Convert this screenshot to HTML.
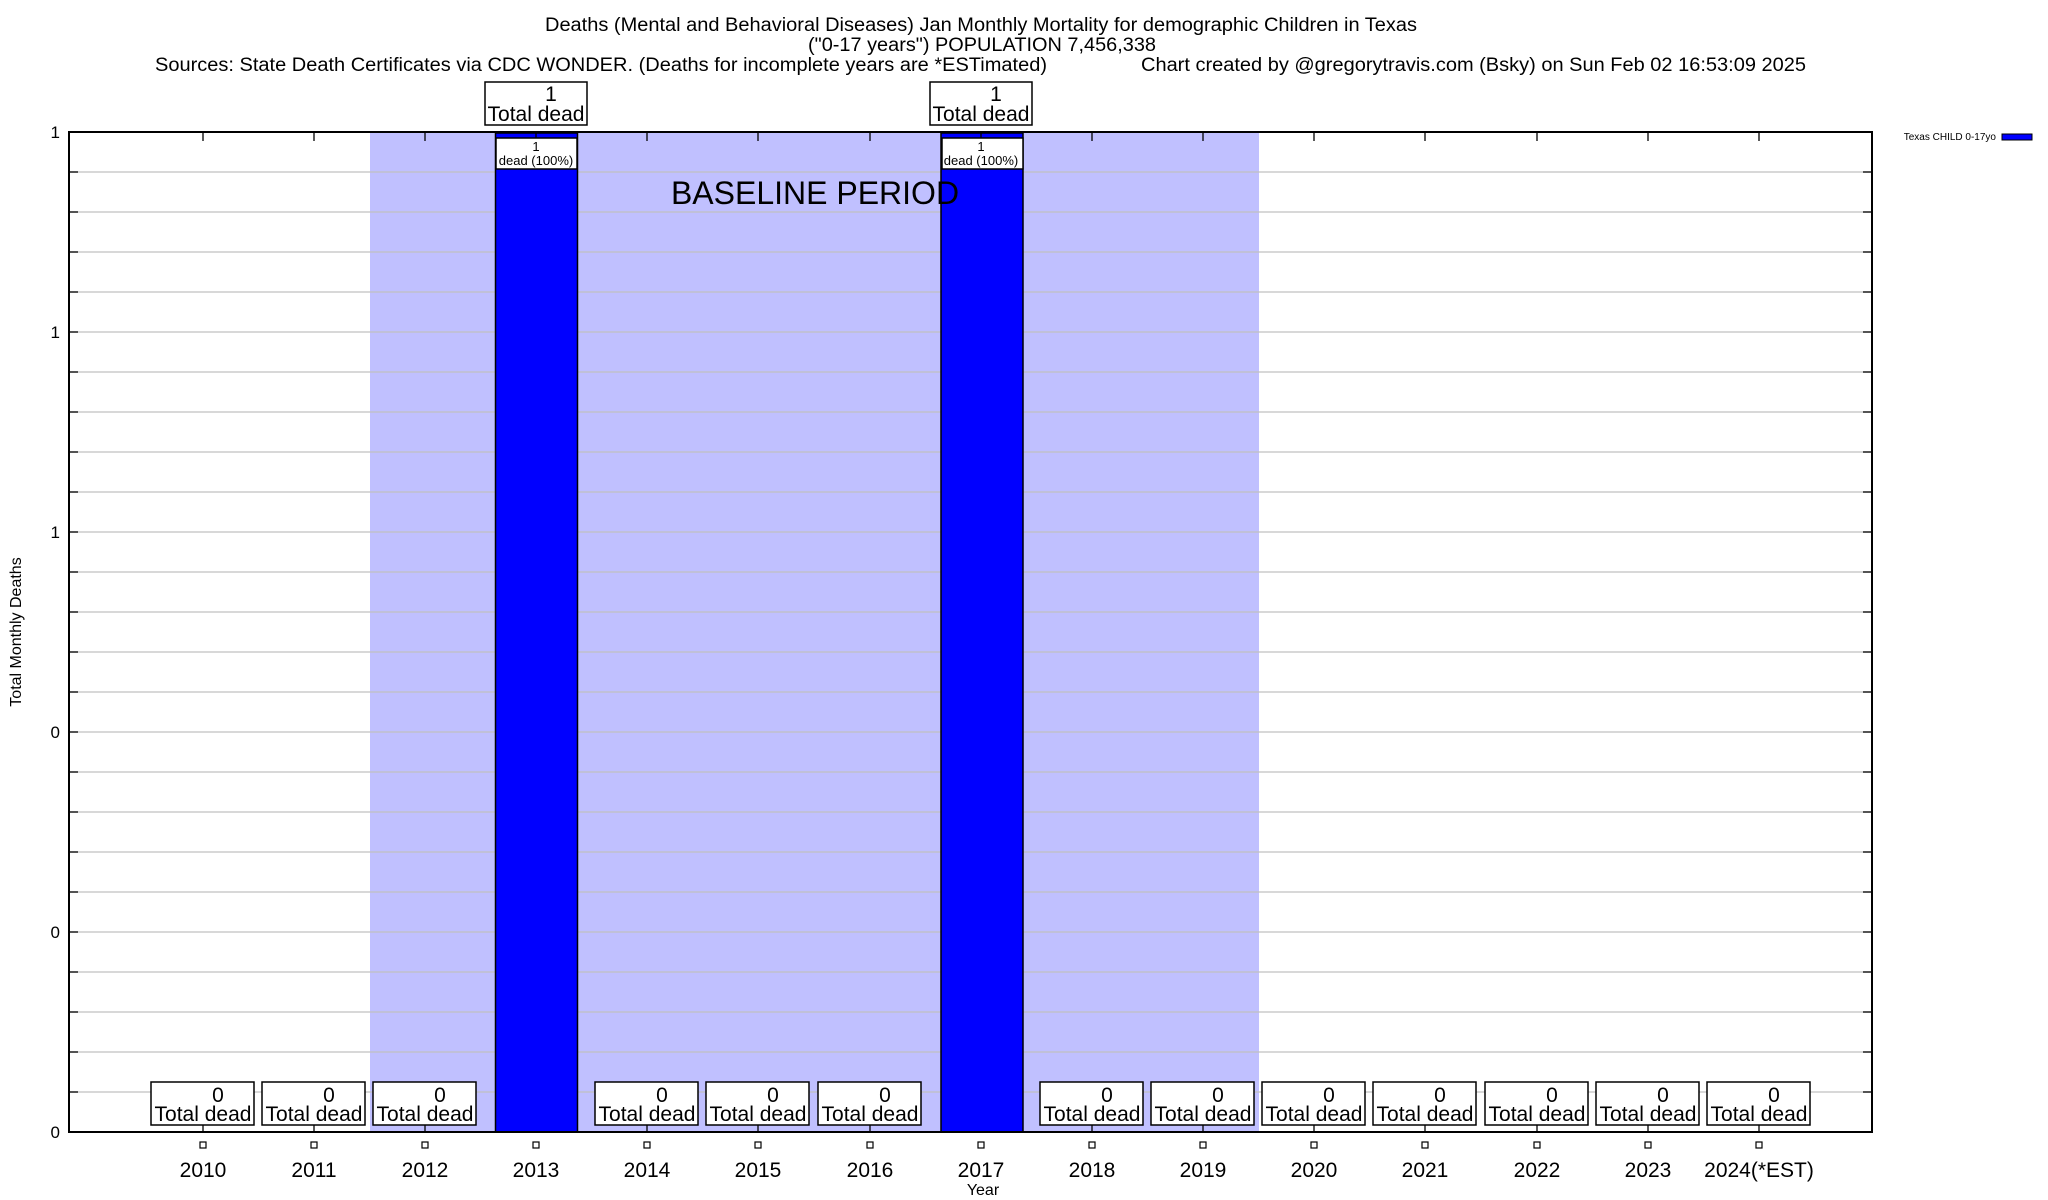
<!DOCTYPE html>
<html><head><meta charset="utf-8"><style>
html,body{margin:0;padding:0;background:#fff;}
svg{display:block;font-family:"Liberation Sans",Arial,sans-serif;}
</style></head><body>
<svg width="2048" height="1200" viewBox="0 0 2048 1200" xmlns="http://www.w3.org/2000/svg">
<rect width="2048" height="1200" fill="#fff"/>
<rect x="370" y="132" width="889" height="1000" fill="#c0c0ff"/>
<g stroke="#c0c0c0" stroke-width="1.3">
<line x1="69" x2="1872" y1="172" y2="172"/><line x1="69" x2="1872" y1="212" y2="212"/><line x1="69" x2="1872" y1="252" y2="252"/><line x1="69" x2="1872" y1="292" y2="292"/><line x1="69" x2="1872" y1="332" y2="332"/>
<line x1="69" x2="1872" y1="372" y2="372"/><line x1="69" x2="1872" y1="412" y2="412"/><line x1="69" x2="1872" y1="452" y2="452"/><line x1="69" x2="1872" y1="492" y2="492"/><line x1="69" x2="1872" y1="532" y2="532"/>
<line x1="69" x2="1872" y1="572" y2="572"/><line x1="69" x2="1872" y1="612" y2="612"/><line x1="69" x2="1872" y1="652" y2="652"/><line x1="69" x2="1872" y1="692" y2="692"/><line x1="69" x2="1872" y1="732" y2="732"/>
<line x1="69" x2="1872" y1="772" y2="772"/><line x1="69" x2="1872" y1="812" y2="812"/><line x1="69" x2="1872" y1="852" y2="852"/><line x1="69" x2="1872" y1="892" y2="892"/><line x1="69" x2="1872" y1="932" y2="932"/>
<line x1="69" x2="1872" y1="972" y2="972"/><line x1="69" x2="1872" y1="1012" y2="1012"/><line x1="69" x2="1872" y1="1052" y2="1052"/><line x1="69" x2="1872" y1="1092" y2="1092"/>
</g>
<rect x="495.5" y="133" width="82" height="999" fill="#0000ff" stroke="#000" stroke-width="1.5"/>
<rect x="941" y="133" width="82" height="999" fill="#0000ff" stroke="#000" stroke-width="1.5"/>
<rect x="69" y="132" width="1803" height="1000" fill="none" stroke="#000" stroke-width="2"/>
<g stroke="#000" stroke-width="1.3">
<line x1="69" x2="78" y1="172" y2="172"/><line x1="69" x2="78" y1="212" y2="212"/><line x1="69" x2="78" y1="252" y2="252"/><line x1="69" x2="78" y1="292" y2="292"/><line x1="69" x2="78" y1="332" y2="332"/>
<line x1="69" x2="78" y1="372" y2="372"/><line x1="69" x2="78" y1="412" y2="412"/><line x1="69" x2="78" y1="452" y2="452"/><line x1="69" x2="78" y1="492" y2="492"/><line x1="69" x2="78" y1="532" y2="532"/>
<line x1="69" x2="78" y1="572" y2="572"/><line x1="69" x2="78" y1="612" y2="612"/><line x1="69" x2="78" y1="652" y2="652"/><line x1="69" x2="78" y1="692" y2="692"/><line x1="69" x2="78" y1="732" y2="732"/>
<line x1="69" x2="78" y1="772" y2="772"/><line x1="69" x2="78" y1="812" y2="812"/><line x1="69" x2="78" y1="852" y2="852"/><line x1="69" x2="78" y1="892" y2="892"/><line x1="69" x2="78" y1="932" y2="932"/>
<line x1="69" x2="78" y1="972" y2="972"/><line x1="69" x2="78" y1="1012" y2="1012"/><line x1="69" x2="78" y1="1052" y2="1052"/><line x1="69" x2="78" y1="1092" y2="1092"/>
<line x1="1863" x2="1872" y1="172" y2="172"/><line x1="1863" x2="1872" y1="212" y2="212"/><line x1="1863" x2="1872" y1="252" y2="252"/><line x1="1863" x2="1872" y1="292" y2="292"/><line x1="1863" x2="1872" y1="332" y2="332"/>
<line x1="1863" x2="1872" y1="372" y2="372"/><line x1="1863" x2="1872" y1="412" y2="412"/><line x1="1863" x2="1872" y1="452" y2="452"/><line x1="1863" x2="1872" y1="492" y2="492"/><line x1="1863" x2="1872" y1="532" y2="532"/>
<line x1="1863" x2="1872" y1="572" y2="572"/><line x1="1863" x2="1872" y1="612" y2="612"/><line x1="1863" x2="1872" y1="652" y2="652"/><line x1="1863" x2="1872" y1="692" y2="692"/><line x1="1863" x2="1872" y1="732" y2="732"/>
<line x1="1863" x2="1872" y1="772" y2="772"/><line x1="1863" x2="1872" y1="812" y2="812"/><line x1="1863" x2="1872" y1="852" y2="852"/><line x1="1863" x2="1872" y1="892" y2="892"/><line x1="1863" x2="1872" y1="932" y2="932"/>
<line x1="1863" x2="1872" y1="972" y2="972"/><line x1="1863" x2="1872" y1="1012" y2="1012"/><line x1="1863" x2="1872" y1="1052" y2="1052"/><line x1="1863" x2="1872" y1="1092" y2="1092"/>
</g>
<g font-size="17" text-anchor="end">
<text x="60" y="138">1</text><text x="60" y="338">1</text><text x="60" y="538">1</text>
<text x="60" y="738">0</text><text x="60" y="938">0</text><text x="60" y="1138">0</text>
</g>
<g stroke="#000" stroke-width="1.3">
<line x1="203" x2="203" y1="132" y2="141"/><line x1="314" x2="314" y1="132" y2="141"/><line x1="425" x2="425" y1="132" y2="141"/><line x1="536" x2="536" y1="132" y2="141"/><line x1="647" x2="647" y1="132" y2="141"/><line x1="758" x2="758" y1="132" y2="141"/><line x1="870" x2="870" y1="132" y2="141"/><line x1="981" x2="981" y1="132" y2="141"/><line x1="1092" x2="1092" y1="132" y2="141"/><line x1="1203" x2="1203" y1="132" y2="141"/><line x1="1314" x2="1314" y1="132" y2="141"/><line x1="1425" x2="1425" y1="132" y2="141"/><line x1="1537" x2="1537" y1="132" y2="141"/><line x1="1648" x2="1648" y1="132" y2="141"/><line x1="1759" x2="1759" y1="132" y2="141"/>
<line x1="203" x2="203" y1="1123" y2="1132"/><line x1="314" x2="314" y1="1123" y2="1132"/><line x1="425" x2="425" y1="1123" y2="1132"/><line x1="647" x2="647" y1="1123" y2="1132"/><line x1="758" x2="758" y1="1123" y2="1132"/><line x1="870" x2="870" y1="1123" y2="1132"/><line x1="1092" x2="1092" y1="1123" y2="1132"/><line x1="1203" x2="1203" y1="1123" y2="1132"/><line x1="1314" x2="1314" y1="1123" y2="1132"/><line x1="1425" x2="1425" y1="1123" y2="1132"/><line x1="1537" x2="1537" y1="1123" y2="1132"/><line x1="1648" x2="1648" y1="1123" y2="1132"/><line x1="1759" x2="1759" y1="1123" y2="1132"/>
</g>
<g fill="#fff" stroke="#000" stroke-width="1.5">
<rect x="151" y="1082" width="103" height="43"/><rect x="262" y="1082" width="103" height="43"/><rect x="373" y="1082" width="103" height="43"/>
<rect x="595" y="1082" width="103" height="43"/><rect x="706" y="1082" width="103" height="43"/><rect x="818" y="1082" width="103" height="43"/>
<rect x="1040" y="1082" width="103" height="43"/><rect x="1151" y="1082" width="103" height="43"/><rect x="1262" y="1082" width="103" height="43"/><rect x="1373" y="1082" width="103" height="43"/><rect x="1485" y="1082" width="103" height="43"/><rect x="1596" y="1082" width="103" height="43"/><rect x="1707" y="1082" width="103" height="43"/>
<rect x="485" y="82" width="102" height="43"/><rect x="930" y="82" width="102" height="43"/>
<rect x="496" y="138" width="81" height="31"/><rect x="942" y="138" width="81" height="31"/>
</g>
<g font-size="21" text-anchor="middle">
<text x="218" y="1102">0</text><text x="203" y="1121">Total dead</text>
<text x="329" y="1102">0</text><text x="314" y="1121">Total dead</text>
<text x="440" y="1102">0</text><text x="425" y="1121">Total dead</text>
<text x="662" y="1102">0</text><text x="647" y="1121">Total dead</text>
<text x="773" y="1102">0</text><text x="758" y="1121">Total dead</text>
<text x="885" y="1102">0</text><text x="870" y="1121">Total dead</text>
<text x="1107" y="1102">0</text><text x="1092" y="1121">Total dead</text>
<text x="1218" y="1102">0</text><text x="1203" y="1121">Total dead</text>
<text x="1329" y="1102">0</text><text x="1314" y="1121">Total dead</text>
<text x="1440" y="1102">0</text><text x="1425" y="1121">Total dead</text>
<text x="1552" y="1102">0</text><text x="1537" y="1121">Total dead</text>
<text x="1663" y="1102">0</text><text x="1648" y="1121">Total dead</text>
<text x="1774" y="1102">0</text><text x="1759" y="1121">Total dead</text>
<text x="551" y="101">1</text><text x="536" y="121">Total dead</text>
<text x="996" y="101">1</text><text x="981" y="121">Total dead</text>
</g>
<g font-size="13" text-anchor="middle">
<text x="536" y="151">1</text><text x="536" y="165">dead (100%)</text>
<text x="981" y="151">1</text><text x="981" y="165">dead (100%)</text>
</g>
<text x="815" y="204" font-size="32" text-anchor="middle">BASELINE PERIOD</text>
<g fill="#fff" stroke="#000" stroke-width="1.2">
<rect x="200" y="1142" width="6" height="6"/><rect x="311" y="1142" width="6" height="6"/><rect x="422" y="1142" width="6" height="6"/><rect x="533" y="1142" width="6" height="6"/><rect x="644" y="1142" width="6" height="6"/><rect x="755" y="1142" width="6" height="6"/><rect x="867" y="1142" width="6" height="6"/><rect x="978" y="1142" width="6" height="6"/><rect x="1089" y="1142" width="6" height="6"/><rect x="1200" y="1142" width="6" height="6"/><rect x="1311" y="1142" width="6" height="6"/><rect x="1422" y="1142" width="6" height="6"/><rect x="1534" y="1142" width="6" height="6"/><rect x="1645" y="1142" width="6" height="6"/><rect x="1756" y="1142" width="6" height="6"/>
</g>
<g font-size="21" text-anchor="middle">
<text x="203" y="1177">2010</text><text x="314" y="1177">2011</text><text x="425" y="1177">2012</text><text x="536" y="1177">2013</text><text x="647" y="1177">2014</text><text x="758" y="1177">2015</text><text x="870" y="1177">2016</text><text x="981" y="1177">2017</text><text x="1092" y="1177">2018</text><text x="1203" y="1177">2019</text><text x="1314" y="1177">2020</text><text x="1425" y="1177">2021</text><text x="1537" y="1177">2022</text><text x="1648" y="1177">2023</text><text x="1759" y="1177">2024(*EST)</text>
</g>
<text x="983" y="1195" font-size="16" text-anchor="middle">Year</text>
<text x="0" y="0" font-size="16" text-anchor="middle" transform="translate(21,632) rotate(-90)">Total Monthly Deaths</text>
<text x="545" y="31" font-size="19" textLength="872" lengthAdjust="spacingAndGlyphs">Deaths (Mental and Behavioral Diseases) Jan Monthly Mortality for demographic Children in Texas</text>
<text x="808" y="51" font-size="19" textLength="348" lengthAdjust="spacingAndGlyphs">("0-17 years") POPULATION 7,456,338</text>
<text x="155" y="71" font-size="19" textLength="892" lengthAdjust="spacingAndGlyphs">Sources: State Death Certificates via CDC WONDER. (Deaths for incomplete years are *ESTimated)</text>
<text x="1141" y="71" font-size="19" textLength="665" lengthAdjust="spacingAndGlyphs">Chart created by @gregorytravis.com (Bsky) on Sun Feb 02 16:53:09 2025</text>
<text x="1996" y="140" font-size="10" text-anchor="end">Texas CHILD 0-17yo</text>
<rect x="2002" y="134" width="30" height="6" fill="#0000ff" stroke="#000" stroke-width="1"/>
</svg>
</body></html>
